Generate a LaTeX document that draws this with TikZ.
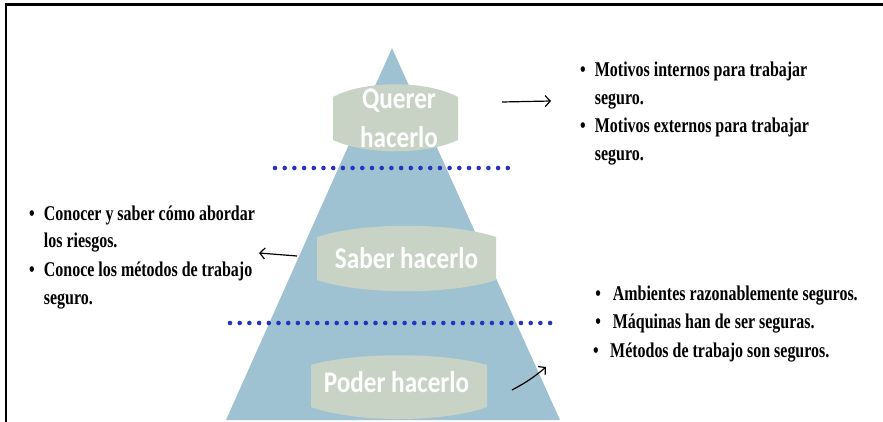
\documentclass[tikz,border=0pt]{standalone}
\usepackage{graphicx}
\usepackage{fontspec}
\setmainfont{Liberation Serif}
\newfontfamily\boxfont{Carlito}
\usepackage{xcolor}
\usetikzlibrary{arrows.meta}

\definecolor{pyramid}{RGB}{158,194,210}
\definecolor{labelbox}{RGB}{200,211,197}
\definecolor{dotblue}{RGB}{36,52,190}

\newcommand{\narrowlist}[1]{\scalebox{0.76}[1]{#1}}
\newcommand{\narrowlabel}[1]{\scalebox{0.84}[1]{#1}}

\begin{document}
\begin{tikzpicture}[x=1pt, y=-1pt, ->, >={Straight Barb[length=5pt, width=11pt]},
    listtext/.style={inner sep=0pt, anchor=base west, font=\fontsize{21}{28}\selectfont\bfseries},
    boxtext/.style={inner sep=0pt, anchor=base, text=white, align=center, font=\boxfont\fontsize{30}{39}\selectfont\bfseries},
    boxfill/.style={fill=labelbox, draw=none},
    dotline/.style={-, dotblue, line width=4.6pt, line cap=round, dash pattern=on 0pt off 9.7pt},
    hand/.style={line width=1.2pt}]

    \useasboundingbox (0,0) rectangle (883,422);

    % Frame
    \draw[-, line width=2.2pt] (6,422) |- (883,4.5);

    % Pyramid
    \fill[pyramid] (392,48) -- (560,420) -- (226,420) -- cycle;

    % Dotted separators
    \draw[dotline] (275,168) -- (510,168);
    \draw[dotline] (230,323) -- (551,323);

    % Label boxes
    \fill[boxfill] (333,97) -- (333,140) .. controls (365,155) and (426,155) .. (458,140)
        -- (458,97) .. controls (426,80) and (365,80) .. (333,97);
    \fill[boxfill] (317,237) -- (317,280) .. controls (362,295) and (451,295) .. (496,280)
        -- (496,237) .. controls (451,222) and (362,222) .. (317,237);
    \fill[boxfill] (311,365) -- (311,407) .. controls (355,423) and (443,423) .. (487,407)
        -- (487,365) .. controls (443,352) and (355,352) .. (311,365);

    % Nodes
    \node[boxtext] (querer) at (399,109) {\narrowlabel{\begin{tabular}[t]{@{}c@{}}Querer\\hacerlo\end{tabular}}};
    \node[boxtext] (saber) at (406.5,268) {\narrowlabel{Saber hacerlo}};
    \node[boxtext] (poder) at (396.5,392) {\narrowlabel{Poder hacerlo}};

    \node[listtext] (motivos) at (580,77) {\narrowlist{\begin{tabular}[t]{@{}l@{\hspace{12pt}}l@{}}
        \textbullet & Motivos internos para trabajar\\
         & seguro.\\
        \textbullet & Motivos externos para trabajar\\
         & seguro.
        \end{tabular}}};
    \node[listtext] (conocer) at (29,220) {\narrowlist{\begin{tabular}[t]{@{}l@{\hspace{12pt}}l@{}}
        \textbullet & Conocer y saber cómo abordar\\
         & los riesgos.\\
        \textbullet & Conoce los métodos de trabajo\\
         & seguro.
        \end{tabular}}};
    \node[listtext] (ambientes) at (593,300) {\narrowlist{\begin{tabular}[t]{@{}l@{}}
        \hspace{3pt}\textbullet\hspace{15.5pt}Ambientes razonablemente seguros.\\[0.5pt]
        \hspace{3pt}\textbullet\hspace{15.5pt}Máquinas han de ser seguras.\\[0.5pt]
        \textbullet\hspace{15pt}Métodos de trabajo son seguros.
        \end{tabular}}};

    % Arrow ends
    \coordinate (q-from) at (502,102);
    \coordinate (q-to) at (551,101);
    \coordinate (s-from) at (297,256);
    \coordinate (s-to) at (259,253);
    \coordinate (p-from) at (512,390);
    \coordinate (p-to) at (546,367);

    % Arrows
    \draw[hand] (q-from) -- (q-to);
    \draw[hand] (s-from) -- (s-to);
    \draw[hand] (p-from) to[bend right=6] (p-to);

\end{tikzpicture}
\end{document}
